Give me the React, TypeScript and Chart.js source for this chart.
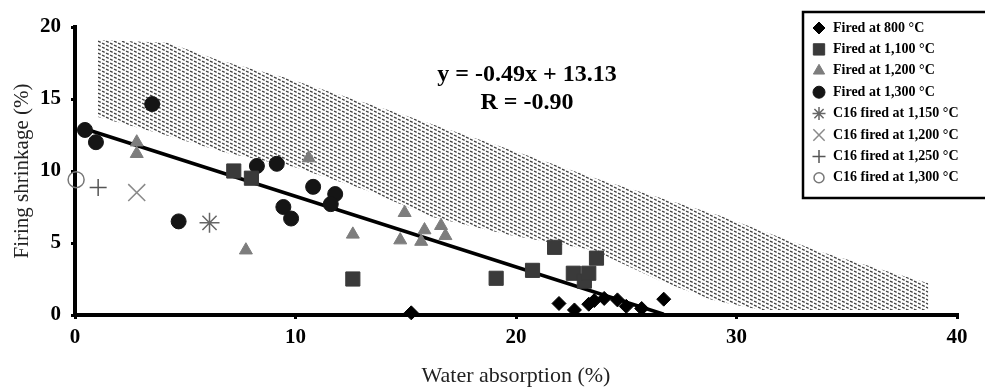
import React, { useEffect, useRef } from 'react';
import { Chart, registerables } from 'chart.js';
import { drawPoint } from 'chart.js/helpers';

Chart.register(...registerables);

const SERIF = '"Liberation Serif", "Times New Roman", serif';

// ---- data ----
const xTickValues = [0, 10, 20, 30, 40];
const yTickValues = [0, 5, 10, 15, 20];

const seriesLabels = [
  'Fired at 800 °C',
  'Fired at 1,100 °C',
  'Fired at 1,200 °C',
  'Fired at 1,300 °C',
  'C16 fired at 1,150 °C',
  'C16 fired at 1,200 °C',
  'C16 fired at 1,250 °C',
  'C16 fired at 1,300 °C',
];

const fired800 = [
  { x: 15.25, y: 0.15 }, { x: 21.95, y: 0.8 }, { x: 22.65, y: 0.35 }, { x: 23.3, y: 0.75 },
  { x: 23.55, y: 1.0 }, { x: 24.0, y: 1.15 }, { x: 24.6, y: 1.05 }, { x: 25.0, y: 0.6 },
  { x: 25.7, y: 0.45 }, { x: 26.7, y: 1.1 },
];
const fired1100 = [
  { x: 7.2, y: 10.0 }, { x: 8.0, y: 9.5 }, { x: 12.6, y: 2.5 }, { x: 19.1, y: 2.55 },
  { x: 20.75, y: 3.1 }, { x: 21.75, y: 4.7 }, { x: 22.6, y: 2.9 }, { x: 23.1, y: 2.35 },
  { x: 23.3, y: 2.9 }, { x: 23.65, y: 3.95 },
];
const fired1200 = [
  { x: 2.8, y: 12.0 }, { x: 2.8, y: 11.2 }, { x: 7.75, y: 4.5 }, { x: 10.6, y: 10.9 },
  { x: 12.6, y: 5.6 }, { x: 14.95, y: 7.1 }, { x: 14.75, y: 5.2 }, { x: 15.85, y: 5.9 },
  { x: 15.7, y: 5.1 }, { x: 16.6, y: 6.2 }, { x: 16.8, y: 5.5 },
];
const fired1300 = [
  { x: 0.45, y: 12.85 }, { x: 0.95, y: 12.0 }, { x: 3.5, y: 14.65 }, { x: 4.7, y: 6.5 },
  { x: 8.25, y: 10.35 }, { x: 9.15, y: 10.5 }, { x: 9.45, y: 7.5 }, { x: 9.8, y: 6.7 },
  { x: 10.8, y: 8.9 }, { x: 11.8, y: 8.4 }, { x: 11.6, y: 7.7 },
];
const c16at1150 = [{ x: 6.1, y: 6.4 }];
const c16at1200 = [{ x: 2.8, y: 8.5 }];
const c16at1250 = [{ x: 1.05, y: 8.85 }];
const c16at1300 = [{ x: 0.05, y: 9.4 }];

const trendLine = [{ x: 0.4, y: 12.95 }, { x: 26.7, y: 0.05 }];
const equationLines = ['y = -0.49x + 13.13', 'R = -0.90'];

const bandUpper = [
  { x: 1.04, y: 19.1 }, { x: 4.2, y: 18.9 }, { x: 6.5, y: 17.7 }, { x: 9.5, y: 16.5 },
  { x: 14.7, y: 14.0 }, { x: 19.3, y: 11.7 }, { x: 23.8, y: 9.4 }, { x: 29.25, y: 6.9 },
  { x: 33.8, y: 4.4 }, { x: 38.7, y: 2.2 },
];
const bandLower = [
  { x: 1.04, y: 13.75 }, { x: 3.85, y: 12.6 }, { x: 6.9, y: 11.25 }, { x: 9.9, y: 10.3 },
  { x: 13.15, y: 8.7 }, { x: 16.2, y: 6.8 }, { x: 19.7, y: 5.55 }, { x: 23.5, y: 4.5 },
  { x: 26.5, y: 2.4 }, { x: 28.9, y: 1.05 }, { x: 31.1, y: 0.35 }, { x: 38.7, y: 0.35 },
];

// legend marker sizes
const legendRadii = [6, 8, 6.5, 6, 6.5, 8, 6.5, 5];

function makeHatch(): CanvasPattern | string {
  const c = document.createElement('canvas');
  c.width = 8;
  c.height = 4;
  const g = c.getContext('2d');
  if (!g) return 'rgba(90,90,90,0.5)';
  g.strokeStyle = 'rgba(45,45,45,0.9)';
  g.lineWidth = 1.4;
  g.setLineDash([3, 1.5]);
  for (const off of [-4, 0, 4]) {
    g.beginPath();
    g.moveTo(-2, off - 1);
    g.lineTo(10, off + 5);
    g.stroke();
  }
  const p = g.createPattern(c, 'repeat');
  return p || 'rgba(90,90,90,0.5)';
}

const legendPlugin = {
  id: 'boxLegend',
  afterDraw(chart: any) {
    const ctx = chart.ctx as CanvasRenderingContext2D;
    ctx.save();
    ctx.fillStyle = '#fff';
    ctx.fillRect(803, 12, 200, 186);
    ctx.strokeStyle = '#000';
    ctx.lineWidth = 2.5;
    ctx.strokeRect(803, 12, 200, 186);
    seriesLabels.forEach((label, i) => {
      const ds = chart.data.datasets[i];
      const y = 28 + i * 21.4;
      ctx.save();
      ctx.fillStyle = ds.pointBackgroundColor;
      ctx.strokeStyle = ds.pointBorderColor;
      ctx.lineWidth = ds.pointBorderWidth;
      drawPoint(ctx, { pointStyle: ds.pointStyle, radius: legendRadii[i], borderWidth: ds.pointBorderWidth, rotation: 0 } as any, 819, y);
      ctx.restore();
      ctx.fillStyle = '#000';
      ctx.font = `bold 14px ${SERIF}`;
      ctx.textBaseline = 'middle';
      ctx.textAlign = 'left';
      ctx.fillText(label, 833, y);
    });
    ctx.restore();
  },
};

const equationPlugin = {
  id: 'equation',
  afterDatasetsDraw(chart: any) {
    const ctx = chart.ctx as CanvasRenderingContext2D;
    const xs = chart.scales.x;
    const ys = chart.scales.y;
    ctx.save();
    ctx.fillStyle = '#000';
    ctx.font = `bold 24px ${SERIF}`;
    ctx.textAlign = 'center';
    ctx.textBaseline = 'middle';
    const cx = xs.getPixelForValue(20.5);
    ctx.fillText(equationLines[0], cx, ys.getPixelForValue(16.67));
    ctx.fillText(equationLines[1], cx, ys.getPixelForValue(14.75));
    ctx.restore();
  },
};

function pointSet(label: string, data: any[], style: string, radius: number, fill: string, stroke: string, bw: number) {
  return {
    label,
    data,
    showLine: false,
    pointStyle: style,
    pointRadius: radius,
    pointBackgroundColor: fill,
    pointBorderColor: stroke,
    pointBorderWidth: bw,
    pointHoverRadius: radius,
    clip: false,
    order: 1,
  };
}

export default function App() {
  const ref = useRef<HTMLCanvasElement | null>(null);

  useEffect(() => {
    if (!ref.current) return;
    const hatch = makeHatch();
    const tickFont = { family: SERIF, size: 21, weight: 'bold' as const };
    const chart = new Chart(ref.current, {
      type: 'line',
      data: {
        datasets: [
          pointSet(seriesLabels[0], fired800, 'rectRot', 7, '#000', '#000', 1),
          pointSet(seriesLabels[1], fired1100, 'rect', 10, '#3a3a3a', '#3a3a3a', 1),
          pointSet(seriesLabels[2], fired1200, 'triangle', 7.5, '#7d7d7d', '#7d7d7d', 1),
          pointSet(seriesLabels[3], fired1300, 'circle', 7.5, '#151515', '#151515', 1),
          pointSet(seriesLabels[4], c16at1150, 'star', 10, 'rgba(0,0,0,0)', '#666', 1.5),
          pointSet(seriesLabels[5], c16at1200, 'crossRot', 12, 'rgba(0,0,0,0)', '#8a8a8a', 1.5),
          pointSet(seriesLabels[6], c16at1250, 'cross', 8.5, 'rgba(0,0,0,0)', '#555', 1.5),
          pointSet(seriesLabels[7], c16at1300, 'circle', 8, 'rgba(0,0,0,0)', '#777', 1.5),
          {
            label: 'trend',
            data: trendLine,
            showLine: true,
            borderColor: '#000',
            borderWidth: 3.5,
            pointRadius: 0,
            fill: false,
            order: 5,
          },
          {
            label: 'bandUpper',
            data: bandUpper,
            showLine: true,
            borderColor: 'rgba(0,0,0,0)',
            borderWidth: 0.01,
            pointRadius: 0,
            backgroundColor: hatch as any,
            fill: '+1',
            tension: 0,
            order: 10,
          },
          {
            label: 'bandLower',
            data: bandLower,
            showLine: true,
            borderColor: 'rgba(0,0,0,0)',
            borderWidth: 0.01,
            pointRadius: 0,
            fill: false,
            tension: 0,
            order: 11,
          },
        ] as any,
      },
      options: {
        responsive: false,
        animation: false,
        layout: { padding: { left: 0, top: 27, right: 28, bottom: 0 } },
        plugins: {
          legend: { display: false },
          tooltip: { enabled: false },
        },
        scales: {
          x: {
            type: 'linear',
            min: 0,
            max: 40,
            afterBuildTicks: (s: any) => { s.ticks = xTickValues.map((v) => ({ value: v })); },
            afterFit: (s: any) => { s.height = 74; },
            ticks: { font: tickFont, color: '#000', padding: 6 },
            grid: { drawOnChartArea: false, drawTicks: true, tickLength: 4, color: '#000', lineWidth: 3 },
            border: { display: true, color: '#000', width: 4 },
            title: {
              display: true,
              text: 'Water absorption (%)',
              font: { family: SERIF, size: 22, weight: 'normal' },
              color: '#222',
              padding: { top: 0, bottom: 0 },
            },
          },
          y: {
            type: 'linear',
            min: 0,
            max: 20,
            afterBuildTicks: (s: any) => { s.ticks = yTickValues.map((v) => ({ value: v })); },
            afterFit: (s: any) => { s.width = 75; },
            ticks: { font: tickFont, color: '#000', padding: 10 },
            grid: { drawOnChartArea: false, drawTicks: true, tickLength: 4, color: '#000', lineWidth: 3 },
            border: { display: true, color: '#000', width: 4 },
            title: {
              display: true,
              text: 'Firing shrinkage (%)',
              font: { family: SERIF, size: 21, weight: 'normal' },
              color: '#222',
              padding: { top: 10, bottom: 0 },
            },
          },
        },
      } as any,
      plugins: [equationPlugin, legendPlugin],
    });
    return () => chart.destroy();
  }, []);

  return (
    <div style={{ position: 'absolute', left: 0, top: 0, width: 985, height: 389, background: '#fff' }}>
      <canvas ref={ref} width={985} height={389} style={{ display: 'block', width: 985, height: 389 }} />
    </div>
  );
}
